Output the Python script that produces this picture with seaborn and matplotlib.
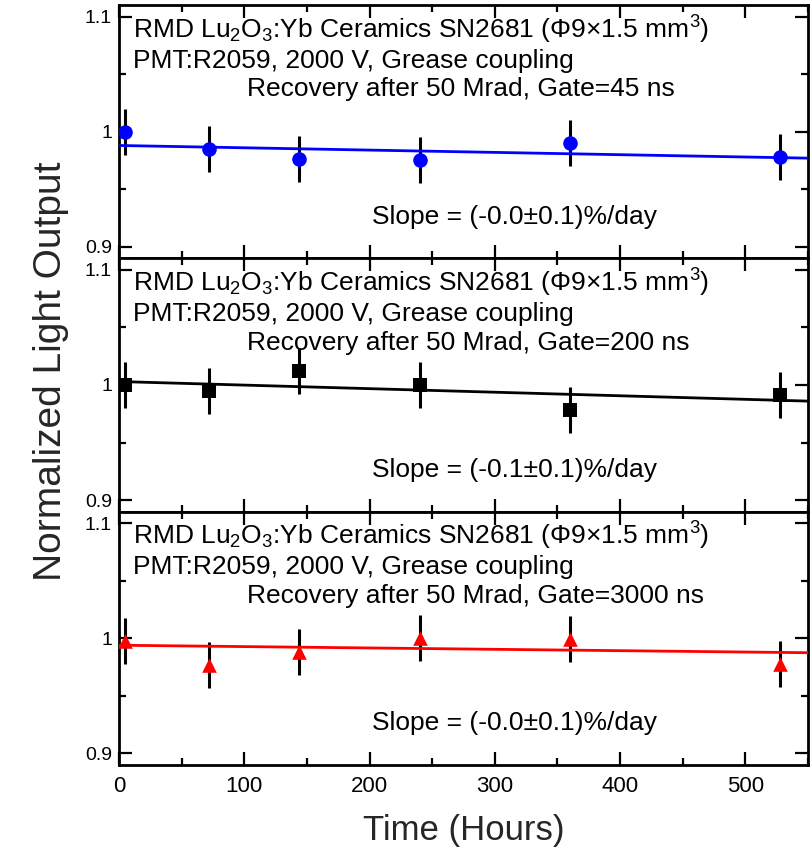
import numpy as np
import pandas as pd
import matplotlib
matplotlib.use("Agg")
import matplotlib.pyplot as plt
from matplotlib.ticker import MultipleLocator, FixedLocator
import seaborn as sns

# Measurement times (hours) after the 50 Mrad irradiation
hours = [5, 72, 144, 240, 360, 528]

# Normalized light output for the three integration gates
lo_45ns = [1.000, 0.985, 0.976, 0.975, 0.990, 0.978]
lo_200ns = [1.000, 0.995, 1.012, 1.000, 0.978, 0.991]
lo_3000ns = [0.998, 0.977, 0.988, 1.000, 0.999, 0.978]
lo_err = [0.02, 0.02, 0.02, 0.02, 0.02, 0.02]

# Linear fits: value at t = 0 h and at t = 550 h
fit_x = [0, 550]
fit_45ns = [0.988, 0.977]
fit_200ns = [1.003, 0.986]
fit_3000ns = [0.994, 0.9875]

gates = ["45", "200", "3000"]
slopes = ["-0.0", "-0.1", "-0.0"]
colors = ["#0000ff", "#000000", "#ff0000"]
markers = ["o", "s", "^"]

ytick_vals = [0.9, 1.0, 1.1]
ytick_labels = ["0.9", "1", "1.1"]
xtick_vals = [0, 100, 200, 300, 400, 500]

sns.set_theme(style="ticks")
plt.rcParams["font.family"] = ["Liberation Sans", "DejaVu Sans"]
plt.rcParams["mathtext.default"] = "regular"

fig, axes = plt.subplots(3, 1, figsize=(8.11, 8.48), dpi=100, sharex=True)
fig.subplots_adjust(left=0.1467, right=0.9963, top=0.9941, bottom=0.0979, hspace=0)

series = [lo_45ns, lo_200ns, lo_3000ns]
fits = [fit_45ns, fit_200ns, fit_3000ns]

for ax, y, fy, gate, slope, col, mk in zip(axes, series, fits, gates, slopes, colors, markers):
    df = pd.DataFrame({"t": hours, "lo": y, "err": lo_err})
    fdf = pd.DataFrame({"t": fit_x, "lo": fy})
    ax.errorbar(df["t"], df["lo"], yerr=df["err"], fmt="none", ecolor="black",
                elinewidth=2.2, capsize=0, zorder=2)
    sns.lineplot(data=fdf, x="t", y="lo", ax=ax, color=col, lw=2.0, zorder=3)
    sns.scatterplot(data=df, x="t", y="lo", ax=ax, color=col, marker=mk,
                    s=110, edgecolor=col, linewidth=0, zorder=4)

    ax.set_xlim(0, 550)
    ax.set_ylim(0.89, 1.11)
    ax.yaxis.set_major_locator(FixedLocator(ytick_vals))
    ax.set_yticklabels(ytick_labels)
    ax.yaxis.set_minor_locator(MultipleLocator(0.05))
    ax.xaxis.set_major_locator(FixedLocator(xtick_vals))
    ax.xaxis.set_minor_locator(MultipleLocator(50))
    ax.tick_params(which="both", direction="in", top=True, right=True,
                   width=1.6, colors="black")
    ax.tick_params(which="major", length=9.5)
    ax.tick_params(which="minor", length=5)
    ax.tick_params(axis="y", labelsize=14, pad=5)
    ax.tick_params(axis="x", labelsize=16, pad=8)
    for sp in ax.spines.values():
        sp.set_linewidth(2.0)
        sp.set_color("black")
    ax.set_xlabel("")
    ax.set_ylabel("")

    tk = dict(transform=ax.transAxes, fontsize=19, color="black", va="baseline")
    ax.text(0.0203, 0.868,
            "RMD Lu$_2$O$_3$:Yb Ceramics SN2681 (\u03a69\u00d71.5 mm$^3$)", **tk)
    ax.text(0.0203, 0.753, "PMT:R2059, 2000 V, Grease coupling", **tk)
    ax.text(0.186, 0.639, f"Recovery after 50 Mrad, Gate={gate} ns", **tk)
    ax.text(0.367, 0.137, f"Slope = ({slope}\u00b10.1)%/day", **tk)

axes[-1].set_xlabel("Time (Hours)", fontsize=25, labelpad=12)
fig.text(0.063, 0.562, "Normalized Light Output", rotation=90, fontsize=28,
         ha="center", va="center")

fig.savefig("out.png", dpi=100)
